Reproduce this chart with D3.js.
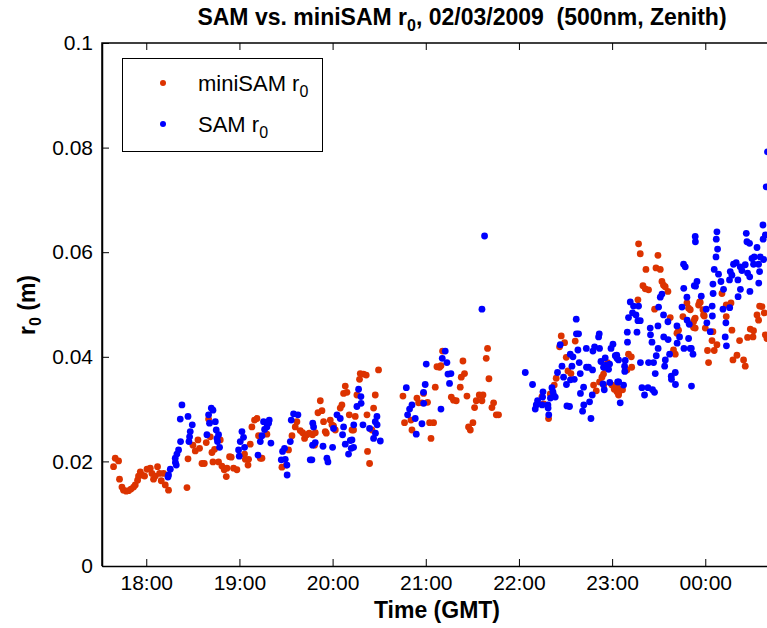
<!DOCTYPE html>
<html>
<head>
<meta charset="utf-8">
<script src="https://cdn.jsdelivr.net/npm/d3@7"></script>
<style>
  body { margin: 0; background: #fff; }
  text { font-family: "Liberation Sans", Arial, Helvetica, sans-serif; }
</style>
</head>
<body>
<div id="chart"></div>
<script>
// miniSAM r0 : time (hours GMT, past midnight continues as 24.x) and r0 in metres
var miniTime = [17.649,17.667,17.703,17.713,17.739,17.756,17.785,17.810,17.836,17.864,17.882,17.907,17.917,17.936,17.954,17.982,
  18.008,18.043,18.061,18.078,18.097,18.121,18.143,18.161,18.186,18.204,18.239,18.437,18.448,18.501,18.526,18.555,18.572,18.598,
  18.623,18.644,18.669,18.687,18.705,18.716,18.733,18.776,18.794,18.812,18.837,18.859,18.894,18.866,18.912,18.937,18.973,
  19.055,19.063,19.098,19.092,19.116,19.134,19.162,19.188,19.205,19.224,19.242,19.295,19.456,19.503,19.527,19.564,19.599,
  19.617,19.653,19.678,19.699,19.725,19.749,19.785,19.806,19.814,19.843,19.886,19.868,19.903,19.921,19.932,19.975,19.993,
  20.010,20.029,20.082,20.100,20.118,20.154,20.136,20.179,20.208,20.297,20.289,20.332,20.361,20.493,20.261,20.458,20.440,
  20.243,20.369,20.422,20.225,20.375,20.397,20.755,20.772,20.841,20.852,20.905,20.923,20.959,20.976,21.019,21.041,21.084,
  21.056,21.102,21.120,21.148,21.163,21.180,21.274,21.298,21.327,21.370,21.381,21.399,21.416,21.442,21.459,21.478,21.506,
  21.524,21.542,21.574,21.603,21.614,21.649,21.663,21.678,21.710,21.728,21.757,21.781,
  22.454,22.490,22.436,22.604,22.508,22.526,22.558,22.400,22.379,22.336,22.264,22.318,22.247,22.801,22.830,22.865,22.891,
  22.908,22.926,22.951,22.998,23.023,23.052,23.069,22.910,23.284,23.302,23.492,23.363,23.471,23.517,23.535,23.552,23.570,
  23.599,23.331,23.356,23.391,23.277,23.456,23.624,23.760,23.803,23.821,23.839,23.885,23.874,23.946,23.981,23.713,23.696,
  23.659,23.678,23.176,23.206,23.159,23.210,23.052,23.087,23.112,23.069,23.939,23.928,23.975,23.989,23.892,23.874,23.892,
  24.000,24.082,24.179,24.225,24.276,24.225,24.286,24.072,24.125,24.096,24.024,24.035,24.368,24.297,24.340,24.411,24.429,
  24.454,24.512,24.483,24.518,24.555,24.572,24.583,24.608,24.633,24.644,24.662];
var miniR0 = [.0190,.0206,.0201,.0166,.0151,.0145,.0143,.0144,.0147,.0151,.0155,.0164,.0172,.0180,.0174,.0172,
  .0185,.0187,.0177,.0166,.0172,.0190,.0177,.0163,.0177,.0155,.0145,.0150,.0205,.0231,.0220,.0241,.0225,.0196,
  .0196,.0236,.0281,.0247,.0217,.0199,.0223,.0199,.0241,.0191,.0184,.0171,.0209,.0187,.0208,.0187,.0184,
  .0214,.0204,.0204,.0193,.0233,.0266,.0279,.0282,.0249,.0206,.0206,.0252,.0189,.0193,.0222,.0249,.0266,
  .0276,.0259,.0255,.0244,.0251,.0254,.0251,.0231,.0255,.0293,.0297,.0316,.0276,.0257,.0254,.0279,.0270,
  .0268,.0260,.0302,.0308,.0330,.0332,.0344,.0289,.0260,.0368,.0357,.0367,.0365,.0375,.0327,.0327,.0302,
  .0286,.0289,.0260,.0260,.0219,.0196,.0325,.0274,.0279,.0260,.0321,.0312,.0312,.0330,.0313,.0274,.0274,
  .0244,.0342,.0381,.0380,.0383,.0411,.0323,.0317,.0316,.0342,.0361,.0392,.0368,.0325,.0266,.0260,.0274,
  .0303,.0316,.0327,.0316,.0327,.0397,.0416,.0358,.0303,.0312,.0289,.0289,
  .0440,.0427,.0419,.0430,.0399,.0373,.0368,.0359,.0346,.0329,.0310,.0282,.0324,.0346,.0335,.0352,.0361,
  .0367,.0378,.0389,.0346,.0338,.0333,.0327,.0346,.0616,.0597,.0594,.0567,.0570,.0567,.0544,.0537,.0534,
  .0525,.0536,.0530,.0528,.0509,.0491,.0475,.0477,.0503,.0493,.0490,.0472,.0456,.0504,.0480,.0451,.0445,
  .0413,.0405,.0405,.0400,.0375,.0380,.0343,.0337,.0337,.0330,.0505,.0499,.0490,.0478,.0474,.0467,.0455,
  .0455,.0448,.0521,.0499,.0503,.0477,.0451,.0431,.0423,.0412,.0412,.0389,.0431,.0394,.0403,.0394,.0382,
  .0437,.0438,.0453,.0450,.0480,.0470,.0497,.0496,.0484,.0442,.0435];

// SAM r0
var samTime = [18.383,18.365,18.448,18.494,18.472,18.465,18.458,18.368,18.347,18.329,18.311,18.313,18.322,18.258,18.239,18.233,
  18.698,18.716,18.669,18.679,18.741,18.751,18.651,18.759,18.765,18.787,18.776,18.991,18.998,19.009,19.027,19.044,19.055,
  19.199,19.224,19.242,19.259,19.270,19.295,19.313,19.320,19.338,19.449,19.463,19.484,19.492,19.510,19.512,19.546,19.556,
  19.581,19.628,19.760,19.778,19.785,19.796,19.787,19.814,19.897,19.939,19.950,20.000,20.010,20.047,20.082,20.107,20.118,
  20.136,20.171,20.190,20.200,20.225,21.631,21.603,21.209,21.177,21.227,21.005,21.270,21.238,21.255,20.994,20.791,20.976,
  20.978,20.852,20.826,20.805,20.887,20.959,20.898,21.163,20.279,20.304,20.306,20.261,20.476,20.458,20.478,20.326,20.227,
  20.397,20.460,20.440,20.512,20.208,
  22.615,22.617,22.640,22.443,22.862,22.855,22.551,22.580,22.633,22.723,22.794,22.812,22.865,22.988,23.009,23.034,23.052,
  22.880,22.926,22.462,22.569,22.647,22.725,22.747,22.790,22.908,22.937,22.973,22.962,22.414,22.479,22.553,22.594,22.658,
  22.068,22.146,22.510,22.694,22.660,22.902,22.916,22.975,23.059,22.258,22.354,22.365,22.372,22.390,22.338,22.254,22.200,
  22.186,22.175,22.249,22.311,22.313,22.320,22.515,22.543,22.696,22.683,22.758,22.787,22.773,23.087,
  23.892,23.894,23.767,23.785,23.911,23.882,23.769,23.957,23.803,23.535,23.517,23.195,23.284,23.230,23.219,23.256,23.176,
  23.277,23.302,23.499,23.552,23.599,23.750,23.805,23.828,23.409,23.492,23.412,23.554,23.601,23.696,23.724,23.821,23.163,
  23.267,23.165,23.428,23.494,23.698,23.771,23.850,23.868,23.617,23.571,23.564,23.474,23.304,23.391,23.445,23.463,23.141,
  23.134,23.136,23.069,23.050,23.635,23.637,23.678,23.680,23.852,23.071,23.123,23.320,23.385,23.434,23.455,23.348,
  24.668,24.654,24.619,24.440,24.447,24.475,24.621,24.644,24.555,24.125,24.118,24.132,24.115,24.096,24.142,24.303,24.332,
  24.375,24.393,24.429,24.501,24.526,24.590,24.626,24.572,24.518,24.583,24.268,24.286,24.260,24.350,24.454,24.477,23.895,
  24.082,24.168,24.196,24.377,24.479,24.574,24.084,24.352,24.074,24.010,24.262,24.190,24.076,24.017,24.221,24.053,24.214,
  24.227,23.839];
var samR0 = [.0308,.0281,.0286,.0270,.0257,.0247,.0238,.0238,.0222,.0214,.0206,.0198,.0193,.0185,.0174,.0170,
  .0302,.0298,.0289,.0273,.0276,.0260,.0251,.0244,.0238,.0227,.0251,.0222,.0210,.0238,.0257,.0246,.0227,
  .0212,.0238,.0249,.0276,.0261,.0266,.0273,.0279,.0235,.0203,.0219,.0225,.0204,.0193,.0174,.0238,.0279,
  .0291,.0289,.0203,.0203,.0231,.0266,.0273,.0236,.0229,.0206,.0199,.0227,.0263,.0289,.0282,.0251,.0266,
  .0233,.0214,.0240,.0225,.0227,.0631,.0491,.0411,.0397,.0389,.0386,.0368,.0367,.0349,.0347,.0341,.0332,
  .0311,.0308,.0300,.0289,.0282,.0272,.0252,.0300,.0338,.0324,.0311,.0305,.0286,.0276,.0270,.0270,.0270,
  .0263,.0254,.0244,.0239,.0241,
  .0472,.0444,.0444,.0423,.0444,.0438,.0405,.0400,.0413,.0416,.0411,.0419,.0416,.0416,.0424,.0402,.0397,
  .0391,.0398,.0382,.0382,.0389,.0380,.0380,.0375,.0380,.0384,.0386,.0376,.0370,.0361,.0356,.0357,.0368,
  .0370,.0347,.0347,.0342,.0330,.0348,.0337,.0351,.0352,.0333,.0341,.0333,.0327,.0323,.0321,.0323,.0316,
  .0308,.0300,.0308,.0308,.0302,.0289,.0306,.0305,.0308,.0296,.0314,.0327,.0282,.0312,
  .0630,.0620,.0577,.0572,.0544,.0536,.0531,.0516,.0514,.0520,.0514,.0505,.0497,.0497,.0484,.0480,.0475,
  .0469,.0469,.0495,.0480,.0467,.0495,.0470,.0462,.0455,.0459,.0442,.0438,.0433,.0459,.0438,.0435,.0447,
  .0447,.0428,.0428,.0416,.0426,.0416,.0416,.0405,.0405,.0394,.0382,.0402,.0389,.0389,.0389,.0368,.0393,
  .0382,.0372,.0394,.0403,.0363,.0357,.0370,.0347,.0344,.0352,.0346,.0341,.0341,.0337,.0332,.0327,
  .0792,.0725,.0652,.0636,.0620,.0617,.0625,.0633,.0609,.0639,.0625,.0606,.0591,.0567,.0558,.0577,.0580,
  .0572,.0565,.0576,.0588,.0591,.0591,.0586,.0577,.0577,.0563,.0563,.0556,.0547,.0547,.0560,.0553,.0535,
  .0539,.0544,.0529,.0529,.0525,.0541,.0521,.0515,.0497,.0491,.0494,.0491,.0478,.0465,.0465,.0448,.0438,
  .0421,.0416];

var xTicks = [18, 19, 20, 21, 22, 23, 24];
var yTicks = [0, 0.02, 0.04, 0.06, 0.08, 0.1];
var seriesNames = ["miniSAM r", "SAM r"];
var seriesColors = ["#dc3300", "#0000ff"];

var width = 767,
    height = 628;

var x = d3.scaleLinear().domain([17.525, 24.7]).range([102, 770.5]);
var y = d3.scaleLinear().domain([0, 0.1]).range([566, 43]);

var svg = d3.select("#chart").append("svg")
    .attr("width", width)
    .attr("height", height);

function hourLabel(h) {
  return d3.format("02")(h % 24) + ":00";
}

// frame: top and left edges (right edge runs off the picture)
svg.append("path")
    .attr("d", "M" + x.range()[1] + "," + y(0.1) + "H" + x.range()[0] + "V" + y(0))
    .attr("fill", "none")
    .attr("stroke", "#000")
    .attr("stroke-width", 1.5);

var xAxis = svg.append("g")
    .attr("transform", "translate(0," + y(0) + ")")
    .call(d3.axisBottom(x).tickValues(xTicks).tickFormat(hourLabel).tickSizeInner(-7).tickSizeOuter(0).tickPadding(9));

var yAxis = svg.append("g")
    .attr("transform", "translate(" + x.range()[0] + ",0)")
    .call(d3.axisLeft(y).tickValues(yTicks).tickFormat(function(d) { return d3.format("~g")(d); }).tickSizeInner(-7).tickSizeOuter(0).tickPadding(9));

svg.append("g")
    .attr("transform", "translate(0," + y(0.1) + ")")
    .call(d3.axisTop(x).tickValues(xTicks).tickFormat("").tickSizeInner(-7).tickSizeOuter(0))
    .select(".domain").remove();

svg.selectAll(".domain").attr("stroke-width", 1.5);
svg.selectAll(".tick line").attr("stroke-width", 1);
svg.selectAll(".tick text")
    .style("font-family", "Liberation Sans, Arial, sans-serif")
    .style("font-size", "21px")
    .attr("fill", "#000");

// data points
var plot = svg.append("g");

plot.selectAll(".mini")
    .data(d3.range(miniTime.length))
  .enter().append("circle")
    .attr("class", "mini")
    .attr("cx", function(i) { return x(miniTime[i]); })
    .attr("cy", function(i) { return y(miniR0[i]); })
    .attr("r", 3.4)
    .attr("fill", seriesColors[0]);

plot.selectAll(".sam")
    .data(d3.range(samTime.length))
  .enter().append("circle")
    .attr("class", "sam")
    .attr("cx", function(i) { return x(samTime[i]); })
    .attr("cy", function(i) { return y(samR0[i]); })
    .attr("r", 3.4)
    .attr("fill", seriesColors[1]);

// title
var title = svg.append("text")
    .attr("x", 462)
    .attr("y", 25)
    .attr("text-anchor", "middle")
    .style("font-weight", "bold")
    .style("font-size", "23px")
    .style("white-space", "pre");
title.append("tspan").text("SAM vs. miniSAM r");
title.append("tspan").attr("dy", 6).style("font-size", "16px").text("0");
title.append("tspan").attr("dy", -6).text(", 02/03/2009  (500nm, Zenith)");

// axis labels
svg.append("text")
    .attr("x", 437)
    .attr("y", 618)
    .attr("text-anchor", "middle")
    .style("font-weight", "bold")
    .style("font-size", "23px")
    .text("Time (GMT)");

var ylab = svg.append("text")
    .attr("transform", "translate(35,305) rotate(-90)")
    .attr("text-anchor", "middle")
    .style("font-weight", "bold")
    .style("font-size", "23px");
ylab.append("tspan").text("r");
ylab.append("tspan").attr("dy", 6).style("font-size", "16px").text("0");
ylab.append("tspan").attr("dy", -6).text(" (m)");

// legend
var legend = svg.append("g");

legend.append("rect")
    .attr("x", 122.5)
    .attr("y", 58.5)
    .attr("width", 200)
    .attr("height", 93)
    .attr("fill", "#fff")
    .attr("stroke", "#000")
    .attr("stroke-width", 1);

var entry = legend.selectAll(".entry")
    .data(seriesNames)
  .enter().append("g")
    .attr("class", "entry")
    .attr("transform", function(d, i) { return "translate(0," + (i * 41) + ")"; });

entry.append("circle")
    .attr("cx", 163)
    .attr("cy", 83)
    .attr("r", 3)
    .attr("fill", function(d, i) { return seriesColors[i]; });

var entryText = entry.append("text")
    .attr("x", 198)
    .attr("y", 91)
    .style("font-size", "22px");
entryText.append("tspan").text(function(d) { return d; });
entryText.append("tspan").attr("dy", 6).style("font-size", "16px").text("0");
</script>
</body>
</html>
